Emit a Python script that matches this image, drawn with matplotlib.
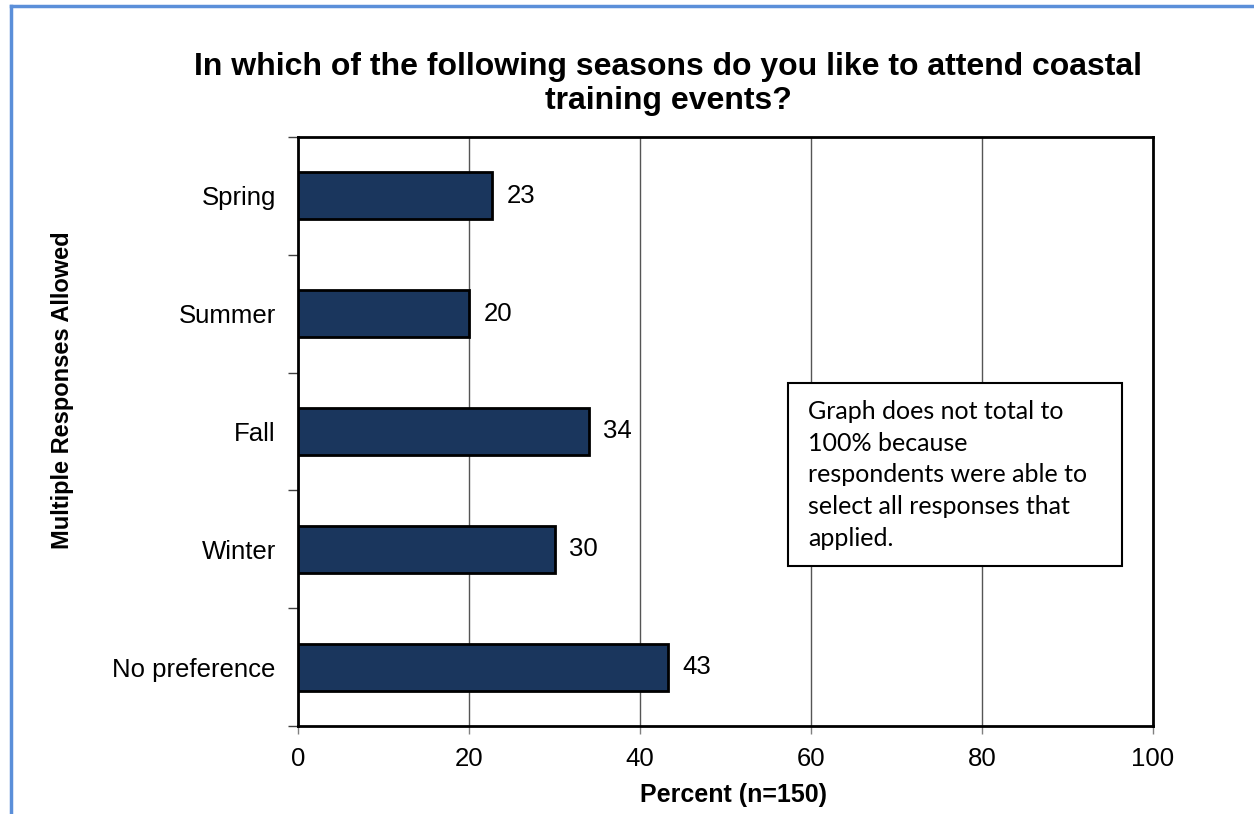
import matplotlib.pyplot as plt
import numpy as np
from matplotlib.lines import Line2D
from matplotlib.patches import Rectangle

# survey data (percent of n=150)
seasons = ["Spring", "Summer", "Fall", "Winter", "No preference"]
percents = [22.7, 20.0, 34.0, 30.0, 43.3]
x_ticks = [0, 20, 40, 60, 80, 100]

title = "In which of the following seasons do you like to attend coastal\ntraining events?"
note = ("Graph does not total to\n100% because\nrespondents were able to\n"
        "select all responses that\napplied.")

bar_color = "#1a365d"
frame_blue = "#5b8fd9"

plt.rcParams['font.family'] = ['Liberation Sans', 'DejaVu Sans']

fig = plt.figure(figsize=(12.54, 8.14), dpi=100)
W, H = 1254, 814
ax = fig.add_axes([298 / W, 1 - 726 / H, (1153 - 298) / W, (726 - 137) / H])

pos = np.arange(len(seasons))
ax.barh(pos, percents, height=0.4, color=bar_color, edgecolor="black", linewidth=2, zorder=3)
for p, v in zip(pos, percents):
    ax.text(v + 1.7, p, "%d" % round(v), va="center", ha="left", fontsize=18.5)

ax.set_xlim(0, 100)
ax.set_ylim(len(seasons) - 0.5, -0.5)
ax.set_xticks(x_ticks)
ax.set_xticklabels([str(t) for t in x_ticks], fontsize=18.5)
ax.tick_params(axis="x", length=6, width=1, color="#808080", pad=9)

# category labels between boundary ticks
ax.set_yticks(np.arange(len(seasons) + 1) - 0.5)
ax.set_yticklabels([])
ax.set_yticks(pos, minor=True)
ax.set_yticklabels(seasons, minor=True, fontsize=18.5)
ax.tick_params(axis="y", which="major", length=7, width=1, color="#404040")
ax.tick_params(axis="y", which="minor", length=0, pad=16)

ax.xaxis.grid(True, color="#555555", linewidth=1)
ax.set_axisbelow(True)
for s in ax.spines.values():
    s.set_linewidth(2)
    s.set_color("black")

fig.text(668 / W, 1 - 84 / H, title, ha="center", va="center", fontsize=23,
         fontweight="bold", linespacing=1.2)
fig.text(63 / W, 1 - 390 / H, "Multiple Responses Allowed", rotation=90, ha="center",
         va="center", fontsize=17, fontweight="bold")
fig.text(733 / W, 1 - 795 / H, "Percent (n=150)", ha="center", va="center",
         fontsize=18, fontweight="bold")

# note box
fig.add_artist(Rectangle((788 / W, 1 - 566 / H), (1122 - 788) / W, (566 - 383) / H,
                         transform=fig.transFigure, facecolor="white", edgecolor="black",
                         linewidth=1.5, zorder=5))
fig.text(808 / W, 1 - 475 / H, note, ha="left", va="center", fontsize=18,
         family=["Lato", "DejaVu Sans"], linespacing=1.46, zorder=6)

# page frame lines
fig.add_artist(Line2D([11 / W, 11 / W], [0, 1 - 6 / H], color=frame_blue, linewidth=2.5))
fig.add_artist(Line2D([11 / W, 1], [1 - 6 / H, 1 - 6 / H], color=frame_blue, linewidth=2.5))

fig.savefig("out.png", dpi=100)
